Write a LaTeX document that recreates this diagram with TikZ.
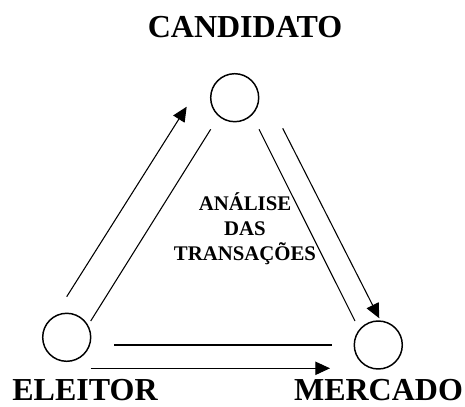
\documentclass[tikz,border=0pt]{standalone}
\usepackage{fontspec}
\setmainfont{Liberation Serif}
\usetikzlibrary{positioning, arrows.meta}
\tikzset{
    agent/.style={draw, circle, line width=1.1pt, minimum size=36pt, inner sep=0pt},
    flow/.style={line width=0.8pt},
    flowarrow/.style={flow, -{Triangle[length=11pt, width=10pt]}},
    biglabel/.style={anchor=base, inner sep=0pt, font=\bfseries\fontsize{24}{28}\selectfont}
}

\begin{document}
\begin{tikzpicture}[x=0.75pt, y=-0.75pt]
    \useasboundingbox (0,0) rectangle (465,407);

    % Agents
    \node[agent] (cand) at (234.7,97.7) {};
    \node[agent] (eleitor) at (66.7,337.3) {};
    \node[agent] (mercado) at (378.3,345) {};

    % Labels
    \node[biglabel] (candlbl) at (245,37) {CANDIDATO};
    \node[biglabel] (eleitorlbl) at (85,400) {ELEITOR};
    \node[biglabel] (mercadolbl) at (378.5,400) {MERCADO};
    \node[anchor=base, align=center, font=\bfseries\fontsize{15.6}{18.4}\selectfont] (analise) at (245,260) {ANÁLISE\\DAS\\TRANSAÇÕES};

    % Line ends
    \coordinate (ec1) at (66.7,296.7);
    \coordinate (ce1) at (186.7,106.7);
    \coordinate (ec2) at (90.7,321);
    \coordinate (ce2) at (210.7,129.3);
    \coordinate (cm1) at (259,129.3);
    \coordinate (mc1) at (355,321);
    \coordinate (cm2) at (282.7,128.3);
    \coordinate (mc2) at (379.3,318.3);
    \coordinate (em1) at (114.3,345);
    \coordinate (me1) at (331.7,345);
    \coordinate (em2) at (90.7,368.3);
    \coordinate (me2) at (330,368.3);

    % Flows
    \draw[flowarrow] (ec1) -- (ce1);
    \draw[flow] (ec2) -- (ce2);
    \draw[flow] (cm1) -- (mc1);
    \draw[flowarrow] (cm2) -- (mc2);
    \draw[flow] (em1) -- (me1);
    \draw[flowarrow] (em2) -- (me2);
\end{tikzpicture}
\end{document}
